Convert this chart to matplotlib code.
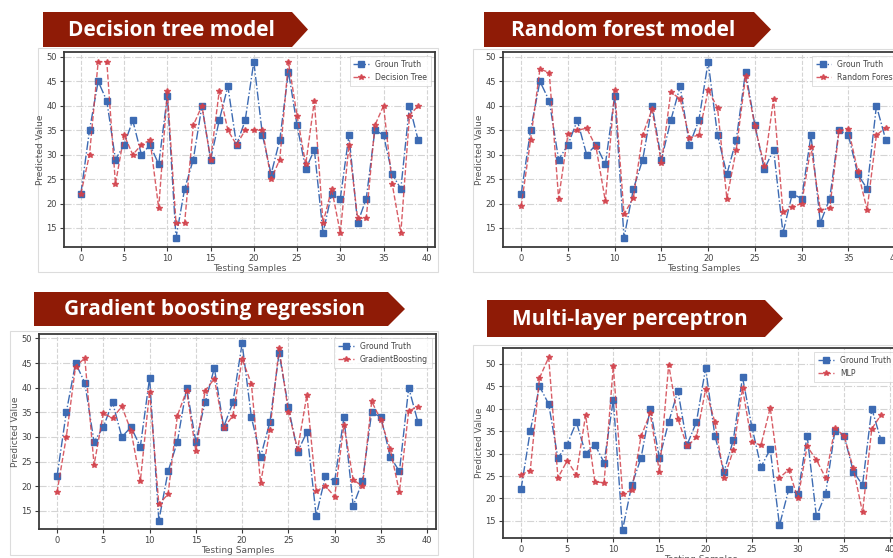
import numpy as np
import matplotlib
matplotlib.use("Agg")
import matplotlib.pyplot as plt
from matplotlib.patches import Polygon, Rectangle

W, H = 893, 558

samples = np.arange(40)
ground_truth = [22, 35, 45, 41, 29, 32, 37, 30, 32, 28, 42, 13, 23, 29, 40, 29, 37, 44, 32, 37,
                49, 34, 26, 33, 47, 36, 27, 31, 14, 22, 21, 34, 16, 21, 35, 34, 26, 23, 40, 33]
decision_tree = [22, 30, 49, 49, 24, 34, 30, 32, 33, 19, 43, 16, 16, 36, 40, 29, 43, 35, 32, 35,
                 35, 35, 25, 29, 49, 38, 28, 41, 16, 23, 14, 32, 17, 17, 36, 40, 24, 14, 38, 40]
random_forest = [19.5, 33, 47.5, 46.8, 21, 34.2, 35, 35.4, 31.6, 20.5, 43.2, 17.8, 21.2, 34.1,
                 39.3, 28.2, 42.8, 41.4, 33.5, 34, 43.2, 39.6, 21, 31, 46, 35.8, 27.7, 41.4,
                 18.2, 19.3, 20, 31.6, 18.7, 19, 34.9, 35.2, 26.7, 18.7, 34, 35.5]
grad_boost = [18.8, 30, 44.3, 46, 24.3, 34.8, 33.8, 36.2, 31.2, 21, 39.2, 16.3, 18.4, 34.3,
              39.4, 27.1, 39.4, 41.8, 31.8, 34.3, 45.8, 40.8, 20.6, 31.4, 48, 35.1, 27.5, 38.5,
              19, 20, 17.9, 32.4, 21.3, 20, 37.2, 33.4, 27.5, 18.8, 35.3, 36.1]
mlp = [25.3, 26.2, 46.8, 51.4, 24.6, 28.4, 25.3, 38.6, 23.7, 23.5, 49.5, 21.1, 21.8, 33.8,
       39, 25.8, 49.8, 37.7, 31.6, 33.6, 44.3, 37, 24.6, 30.7, 44.5, 32.5, 31.9, 40.2,
       24.6, 26.4, 20, 31.6, 28.6, 24.6, 35.6, 34, 26.7, 16.9, 35.5, 38.6]

BANNER = '#8f1b06'
BLUE = '#3d6bb3'
RED = '#d2414b'

fig = plt.figure(figsize=(W / 100, H / 100), dpi=100)


def fx(x):
    return x / W


def fy(y):
    return 1 - y / H


def banner(x0, y0, x1, y1, tip, text, tx):
    ym = (y0 + y1) / 2
    pts = [(fx(x0), fy(y0)), (fx(x1), fy(y0)), (fx(tip), fy(ym)),
           (fx(x1), fy(y1)), (fx(x0), fy(y1))]
    fig.patches.append(Polygon(pts, closed=True, transform=fig.transFigure,
                               facecolor=BANNER, edgecolor='none', zorder=-5))
    fig.text(fx(tx), fy(ym + 1), text, color='white', fontsize=15, fontweight='bold',
             family='Open Sans', ha='center', va='center')


def frame(x0, y0, x1, y1):
    fig.patches.append(Rectangle((fx(x0), fy(y1)), fx(x1) - fx(x0), fy(y0) - fy(y1),
                                 transform=fig.transFigure, facecolor='white',
                                 edgecolor='#dcdcdc', linewidth=0.8, zorder=-10))


def panel(box, pred, gt_label, pred_label, ylim):
    x0, y0, x1, y1 = box
    ax = fig.add_axes([fx(x0), fy(y1), fx(x1) - fx(x0), fy(y0) - fy(y1)])
    ax.set_facecolor('none')
    ax.plot(samples, ground_truth, linestyle='-.', color=BLUE, marker='s', markersize=4,
            linewidth=1, label=gt_label)
    ax.plot(samples, pred, linestyle='--', color=RED, marker='*', markersize=4,
            linewidth=1, alpha=0.85, label=pred_label)
    ax.set_xlim(-1.95, 40.95)
    ax.set_ylim(*ylim)
    ax.set_xticks(range(0, 41, 5))
    ax.set_yticks(range(15, 51, 5))
    ax.yaxis.grid(True, linestyle='-.', color='#d4d4d4', linewidth=0.8)
    ax.xaxis.grid(True, linestyle='--', color='#d4d4d4', linewidth=0.8)
    ax.set_axisbelow(True)
    for s in ax.spines.values():
        s.set_color('#3a3a3a')
        s.set_linewidth(1.3)
    ax.tick_params(labelsize=6, colors='#3a3a3a', labelcolor='#444444',
                   length=3, width=0.8, pad=2)
    ax.set_xlabel('Testing Samples', fontsize=6.5, color='#555555', labelpad=1)
    ax.set_ylabel('Predicted Value', fontsize=6.5, color='#555555', labelpad=1)
    leg = ax.legend(loc='upper right', fontsize=5.6, frameon=True, fancybox=False,
                    borderpad=0.5, handlelength=2.0, labelcolor='#444444')
    leg.get_frame().set_edgecolor('#d0d0d0')
    leg.get_frame().set_linewidth(0.6)
    return ax


frame(38, 48, 438, 272)
banner(43, 12, 292, 47, 308, 'Decision tree model', 171)
panel((64, 52, 435, 247), decision_tree, 'Groun Truth', 'Decision Tree', (11.1, 51.0))

frame(473, 49, 930, 272)
banner(484, 12, 754, 47, 771, 'Random forest model', 623)
panel((503, 52, 904, 247), random_forest, 'Groun Truth', 'Random Forest', (11.1, 51.0))

frame(10, 331, 438, 555)
banner(34, 292, 388, 326, 405, 'Gradient boosting regression', 215)
panel((39, 334, 436, 529), grad_boost, 'Ground Truth', 'GradientBoosting', (11.3, 50.9))

frame(473, 345, 930, 580)
banner(487, 300, 765, 337, 783, 'Multi-layer perceptron', 630)
panel((503, 348, 899, 538), mlp, 'Ground Truth', 'MLP', (11.2, 53.5))

fig.savefig('out.png', dpi=100)
